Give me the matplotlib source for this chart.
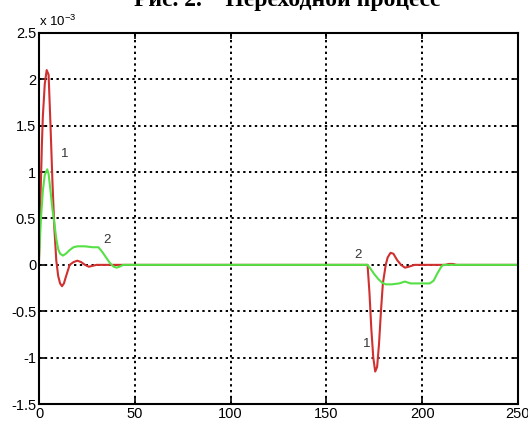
import numpy as np
import matplotlib
matplotlib.use("Agg")
import matplotlib.pyplot as plt

plt.rcParams["font.family"] = ["Liberation Sans", "DejaVu Sans"]
plt.rcParams["mathtext.default"] = "regular"

# curve 1 (red), values in units of 1e-3
t_red = [0, 0.5, 1, 1.5, 2, 3, 4, 5, 6, 7, 8, 9, 10, 11, 12, 13, 14, 16, 18,
         20, 22, 24, 26, 28, 30,
         171.5, 172.5, 173.5, 174.5, 175.5, 176.5, 177.5, 178.5, 179.5, 181,
         182, 183.5, 185, 187, 189, 191, 193, 196, 212, 214, 216, 218, 250]
y_red = [0.05, 0.5, 0.9, 1.3, 1.6, 1.95, 2.1, 2.05, 1.5, 0.9, 0.4, 0.05, -0.12,
         -0.2, -0.23, -0.2, -0.13, 0.0, 0.03, 0.045, 0.03, 0.0, -0.02, -0.01, 0,
         0, -0.3, -0.7, -1.0, -1.15, -1.1, -0.85, -0.5, -0.2, 0.0,
         0.08, 0.13, 0.12, 0.05, 0.0, -0.03, -0.02, 0, 0, 0.01, 0.01, 0, 0]

# curve 2 (green)
t_green = [0, 1, 2, 3, 4.3, 5, 6, 7, 8, 9, 10, 11, 12.5, 14, 16, 18, 20, 24, 28,
           31, 33, 35, 37, 39, 40.5, 42, 44,
           171.5, 173, 175, 177, 179, 181, 184, 188, 191, 194, 200, 204, 206,
           208, 210, 211, 250]
y_green = [0.08, 0.5, 0.8, 0.97, 1.03, 0.98, 0.8, 0.6, 0.45, 0.28, 0.17, 0.12,
           0.1, 0.12, 0.16, 0.19, 0.2, 0.2, 0.19, 0.19, 0.14, 0.08, 0.02, -0.02,
           -0.03, -0.02, 0,
           0, -0.04, -0.1, -0.15, -0.19, -0.21, -0.21, -0.2, -0.18, -0.2, -0.2,
           -0.2, -0.17, -0.09, -0.02, 0, 0]

x_ticks = [0, 50, 100, 150, 200, 250]
y_ticks = [-1.5, -1, -0.5, 0, 0.5, 1, 1.5, 2, 2.5]
y_labels = ["-1.5", "-1", "-0.5", "0", "0.5", "1", "1.5", "2", "2.5"]

labels = [("1", 13.5, 1.19), ("2", 35.5, 0.27), ("2", 166.7, 0.11), ("1", 171, -0.85)]

fig = plt.figure(figsize=(5.28, 4.25), dpi=100)
ax = fig.add_axes([0.0739, 0.0494, 0.907, 0.873])

ax.plot(t_red, y_red, color="#d03030", lw=1.5)
ax.plot(t_green, y_green, color="#55e045", lw=1.5)

for txt, x, y in labels:
    ax.text(x, y, txt, fontsize=9.5, color="#333333", ha="center", va="center")

ax.set_xlim(0, 250)
ax.set_ylim(-1.5, 2.5)
ax.set_xticks(x_ticks)
ax.set_yticks(y_ticks)
ax.set_yticklabels(y_labels)
ax.tick_params(direction="in", top=True, right=True, length=4, width=1.2,
               labelsize=10.5, pad=2)
ax.grid(True, color="black", linestyle=(0, (1.2, 1.8)), lw=1.4)
for s in ax.spines.values():
    s.set_linewidth(1.5)

ax.text(0.0, 1.012, "x 10$^{-3}$", transform=ax.transAxes, fontsize=9.5,
        ha="left", va="bottom")

fig.text(0.544, 0.985, "Рис. 2.    Переходной процесс", fontsize=17,
         fontweight="bold", family="Liberation Serif", ha="center", va="baseline")

fig.savefig("out.png", dpi=100)
